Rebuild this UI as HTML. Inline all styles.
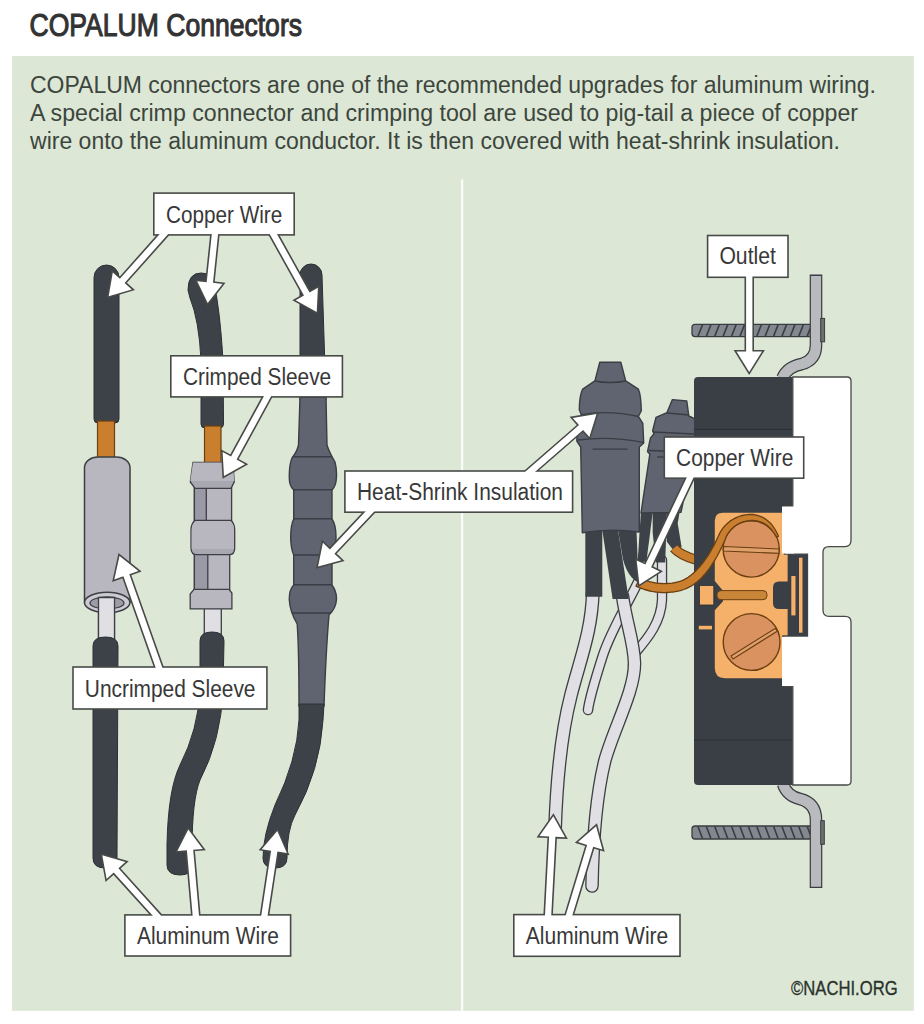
<!DOCTYPE html>
<html><head><meta charset="utf-8"><style>
html,body{margin:0;padding:0;background:#fff;}
svg{display:block;font-family:"Liberation Sans",sans-serif;}
</style></head><body>
<svg width="924" height="1024" viewBox="0 0 924 1024">
<rect x="0" y="0" width="924" height="1024" fill="#fff"/>
<rect x="12" y="56" width="901.8" height="954.8" fill="#dde7d6"/>
<text x="29.5" y="35.5" font-size="31.5" fill="#333" stroke="#333" stroke-width="1.1" textLength="272.5" lengthAdjust="spacingAndGlyphs">COPALUM Connectors</text>
<text x="30" y="92.6" font-size="23.3" fill="#3c463d" textLength="846" lengthAdjust="spacingAndGlyphs">COPALUM connectors are one of the recommended upgrades for aluminum wiring.</text>
<text x="30" y="120.7" font-size="23.3" fill="#3c463d" textLength="828" lengthAdjust="spacingAndGlyphs">A special crimp connector and crimping tool are used to pig-tail a piece of copper</text>
<text x="30" y="148.8" font-size="23.3" fill="#3c463d" textLength="810" lengthAdjust="spacingAndGlyphs">wire onto the aluminum conductor. It is then covered with heat-shrink insulation.</text>
<rect x="461" y="179.5" width="2.2" height="831.3" fill="#fbfdf9"/>
<path d="M94,277.5 A12.5,12.5 0 0 1 119,277.5 L119,419 Q119,423 115,423 L98,423 Q94,423 94,419 Z" fill="#3d4249" stroke="#2c3036" stroke-width="1"/><rect x="97.5" y="421" width="17" height="38" fill="#c97f2e" stroke="#6b3f12" stroke-width="1.2"/><rect x="98.5" y="598" width="16" height="44" fill="#dfdfe4" stroke="#3d3f44" stroke-width="1.3"/><path d="M84.5,467.5 A13.5,10.5 0 0 1 98,457 L116.5,457 A13.5,10.5 0 0 1 130,467.5 L130,602.5 L84.5,602.5 Z" fill="#b8b7bf" stroke="#3d3f44" stroke-width="1.5"/><ellipse cx="107.2" cy="602.5" rx="22.7" ry="10.2" fill="#cbcbd1" stroke="#3d3f44" stroke-width="1.5"/><ellipse cx="107" cy="603" rx="17" ry="6" fill="#9d9ca4" stroke="#3d3f44" stroke-width="1.3"/><path d="M98.5,641 L98.5,597.5 L114.5,597.5 L114.5,641" fill="#dfdfe4" stroke="#3d3f44" stroke-width="1.3"/><path d="M93,646 Q93,637 105.5,637 Q118,637 118,646 L117,858 Q117,868 105,868 Q93,868 93,858 Z" fill="#3d4249" stroke="#2c3036" stroke-width="1"/><path d="M188,290 Q188,273 201,273 Q212,273 214,283 Q220,310 223,360 L223.5,424 Q223.5,428 219.5,428 L205,428 Q201,428 201,424 L201,360 Q199,320 190,298 Z" fill="#3d4249" stroke="#2c3036" stroke-width="1"/><rect x="204.5" y="426" width="16.5" height="38" fill="#c97f2e" stroke="#6b3f12" stroke-width="1.2"/><rect x="204.3" y="600" width="17" height="36" fill="#dfdfe4" stroke="#3d3f44" stroke-width="1.3"/><path d="M194.4,486 L231.6,486 L231.6,521 L194.4,521 Z" fill="#b8b7bf" stroke="#3d3f44" stroke-width="1.3"/><path d="M194.4,486 L206.3,486 L206.3,521 L194.4,521 Z" fill="#9a9aa6" stroke="#3d3f44" stroke-width="1.3"/><path d="M194.4,553 L229.7,553 L229.7,590 L194.4,590 Z" fill="#b8b7bf" stroke="#3d3f44" stroke-width="1.3"/><path d="M194.4,553 L207.8,553 L207.8,590 L194.4,590 Z" fill="#9a9aa6" stroke="#3d3f44" stroke-width="1.3"/><path d="M193,462.5 L233,462.5 L234.2,482 L231,488.4 L195,488.4 L190.3,482 Z" fill="#a8a8b2" stroke="#3d3f44" stroke-width="1.3"/><path d="M193,462.5 L233,462.5 L234.2,481 L190.3,481 Z" fill="#b8b7bf"/><path d="M195,520.3 L231,520.3 Q234.7,524 234.7,530 L234.7,548 Q234.7,554.7 229,554.7 L197,554.7 Q191,554.7 191,548 L191,530 Q191,524 195,520.3 Z" fill="#a8a8b2" stroke="#3d3f44" stroke-width="1.3"/><path d="M196,521 L230,521 Q234,524 234,530 L234,549 L191.7,549 L191.7,530 Q191.7,524 196,521 Z" fill="#b8b7bf"/><path d="M194,589.4 L229,589.4 L231.9,593 L231.9,608.9 L190.2,608.9 L190.2,594 Z" fill="#b8b7bf" stroke="#3d3f44" stroke-width="1.3"/><path d="M200,641 Q200,632 212,632 Q224,632 224,641 L223,690 Q221,740 200,780 Q192,800 192,850 L192,865 Q192,875 180,875 Q167,875 167,865 L167,845 Q168,790 180,765 Q198,730 200,690 Z" fill="#3d4249" stroke="#2c3036" stroke-width="1"/><path d="M300,275 A11,11 0 0 1 322,275 L326,400 L300,400 Z" fill="#3d4249" stroke="#2c3036" stroke-width="1"/><clipPath id="hsclip"><path d="M300,397 L326,397 L327,445 Q329,452 335,462 Q337,470 336.4,478 Q336,486 332,490 L332,519 Q336,525 336,537 Q336,550 332,555 L332,585 Q337,592 336.4,600 Q336,608 329,615 Q326,650 324,706 Q311.5,708 299,706 Q299,650 297.2,624 Q290,612 289.3,600 Q289,590 293.7,585 L293.7,555 Q290.7,548 290.7,537 Q290.7,525 293.7,519 L293.7,490 Q289.3,486 289.3,478 Q289,465 292,458 Q297,452 298.5,445 Z"/></clipPath><path d="M300,397 L326,397 L327,445 Q329,452 335,462 Q337,470 336.4,478 Q336,486 332,490 L332,519 Q336,525 336,537 Q336,550 332,555 L332,585 Q337,592 336.4,600 Q336,608 329,615 Q326,650 324,706 Q311.5,708 299,706 Q299,650 297.2,624 Q290,612 289.3,600 Q289,590 293.7,585 L293.7,555 Q290.7,548 290.7,537 Q290.7,525 293.7,519 L293.7,490 Q289.3,486 289.3,478 Q289,465 292,458 Q297,452 298.5,445 Z" fill="#5f6470"/><g clip-path="url(#hsclip)"><line x1="280" y1="456.8" x2="345" y2="456.8" stroke="#3a3d44" stroke-width="1.4"/><line x1="280" y1="489.8" x2="345" y2="489.8" stroke="#3a3d44" stroke-width="1.4"/><line x1="280" y1="518.8" x2="345" y2="518.8" stroke="#3a3d44" stroke-width="1.4"/><line x1="280" y1="555" x2="345" y2="555" stroke="#3a3d44" stroke-width="1.4"/><line x1="280" y1="584.8" x2="345" y2="584.8" stroke="#3a3d44" stroke-width="1.4"/><line x1="280" y1="613" x2="345" y2="613" stroke="#3a3d44" stroke-width="1.4"/></g><path d="M300,397 L326,397 L327,445 Q329,452 335,462 Q337,470 336.4,478 Q336,486 332,490 L332,519 Q336,525 336,537 Q336,550 332,555 L332,585 Q337,592 336.4,600 Q336,608 329,615 Q326,650 324,706 Q311.5,708 299,706 Q299,650 297.2,624 Q290,612 289.3,600 Q289,590 293.7,585 L293.7,555 Q290.7,548 290.7,537 Q290.7,525 293.7,519 L293.7,490 Q289.3,486 289.3,478 Q289,465 292,458 Q297,452 298.5,445 Z" fill="none" stroke="#3a3d44" stroke-width="1.4"/><path d="M299,704 L324,704 L323,720 Q320,770 295,815 Q287,830 287,858 Q287,868 275,868 Q263,868 263,858 Q263,835 275,805 Q297,760 299,720 Z" fill="#3d4249" stroke="#2c3036" stroke-width="1"/>
<path d="M662,560 L662,600 C661,622 648,638 636,652 C634,656 633.5,660 633,666" fill="none" stroke="#3d3f44" stroke-width="10.4" stroke-linecap="round" stroke-linejoin="round"/><path d="M662,560 L662,600 C661,622 648,638 636,652 C634,656 633.5,660 633,666" fill="none" stroke="#dfdfe4" stroke-width="7.8" stroke-linecap="round" stroke-linejoin="round"/><path d="M640,578 C630,600 612,628 603,655 C595,680 589.5,698 588,710" fill="none" stroke="#3d3f44" stroke-width="10.6" stroke-linecap="round" stroke-linejoin="round"/><path d="M640,578 C630,600 612,628 603,655 C595,680 589.5,698 588,710" fill="none" stroke="#dfdfe4" stroke-width="7.999999999999999" stroke-linecap="round" stroke-linejoin="round"/><path d="M592.8,592 C592,630 580,660 571,695 C562,730 557,770 555,830" fill="none" stroke="#3d3f44" stroke-width="13.9" stroke-linecap="round" stroke-linejoin="round"/><path d="M592.8,592 C592,630 580,660 571,695 C562,730 557,770 555,830" fill="none" stroke="#dfdfe4" stroke-width="11.3" stroke-linecap="round" stroke-linejoin="round"/><path d="M622.5,596 C626,622 634,642 634.5,663 C635,690 614,728 605,760 C597,792 593,830 592,886" fill="none" stroke="#3d3f44" stroke-width="13.6" stroke-linecap="round" stroke-linejoin="round"/><path d="M622.5,596 C626,622 634,642 634.5,663 C635,690 614,728 605,760 C597,792 593,830 592,886" fill="none" stroke="#dfdfe4" stroke-width="11.0" stroke-linecap="round" stroke-linejoin="round"/><path d="M641,510 L653,510 L646.4,561.7 L640,562 L637.8,559.4 Z" fill="#3d4249"/><path d="M652.7,510 L667,510 L665.2,562.5 L655.8,562.5 L652.7,532.8 Z" fill="#3d4249"/><path d="M666.7,510 L680,510 L677.7,523.4 L681.6,546.9 L675,552 L673.75,550.8 L666.7,541.4 Z" fill="#3d4249"/><path d="M674,548 C679,554 686,557 697,560" fill="none" stroke="#6b3f12" stroke-width="10.4" stroke-linecap="butt"/><path d="M674,548 C679,554 686,557 697,560" fill="none" stroke="#c97f2e" stroke-width="8" stroke-linecap="butt"/><path d="M672.4,399.6 L686.8,401 L688.8,416 L696,419.4 L696,440 L681,512.4 L641,513 L649.8,454.3 L647.5,451.6 L650.5,437.9 L654,433.8 L652.6,431 L656,417.4 L667,412.6 Z" fill="#5f6470" stroke="#3a3d44" stroke-width="1.4" stroke-linejoin="round"/><line x1="667" y1="413" x2="689" y2="415" stroke="#3a3d44" stroke-width="1.3"/><line x1="653" y1="432" x2="694" y2="434" stroke="#3a3d44" stroke-width="1.3"/><line x1="649" y1="450.5" x2="694" y2="452" stroke="#3a3d44" stroke-width="1.3"/><line x1="657" y1="457" x2="666" y2="457" stroke="#3a3d44" stroke-width="1.3"/><path d="M585.3,530 L602.3,530 L602.3,596.7 L585.3,596.7 Z" fill="#3d4249"/><path d="M602.3,530 L618,530 L628.7,599 L612.6,599 Z" fill="#3d4249"/><path d="M618,530 L636.5,530 L638.5,582.5 Q628,578 622.9,559 Z" fill="#3d4249"/><path d="M599.8,362.3 L620.8,362.3 L625.7,380.9 L638.4,389.2 Q641,395 641.3,410.7 L638.4,416.5 L642.8,423.4 L643.7,442.9 L639.3,447 L639.3,532 Q610,528 582.3,532.7 L580.7,447 L576.8,441 Q577,425 581.2,414.6 L579.3,409.7 Q579.5,395 582.7,389.2 L594.9,380.9 Z" fill="#5f6470" stroke="#3a3d44" stroke-width="1.4" stroke-linejoin="round"/><path d="M594.9,381 Q610,384 625.7,381 M581,414.6 Q610,410 638.4,416.5 M578,440 Q610,436 643,442.4 M592.5,449.2 L627.6,449.2" fill="none" stroke="#3a3d44" stroke-width="1.3"/><rect x="692" y="324.3" width="124" height="12.300000000000011" rx="3" fill="#83878f" stroke="#3a3d40" stroke-width="1.3"/><line x1="698.0" y1="336.1" x2="702.5" y2="324.8" stroke="#3a3d40" stroke-width="1.6"/><line x1="706.4" y1="336.1" x2="710.9" y2="324.8" stroke="#3a3d40" stroke-width="1.6"/><line x1="714.8" y1="336.1" x2="719.3" y2="324.8" stroke="#3a3d40" stroke-width="1.6"/><line x1="723.2" y1="336.1" x2="727.7" y2="324.8" stroke="#3a3d40" stroke-width="1.6"/><line x1="731.6" y1="336.1" x2="736.1" y2="324.8" stroke="#3a3d40" stroke-width="1.6"/><line x1="740.0" y1="336.1" x2="744.5" y2="324.8" stroke="#3a3d40" stroke-width="1.6"/><line x1="748.4" y1="336.1" x2="752.9" y2="324.8" stroke="#3a3d40" stroke-width="1.6"/><line x1="756.8" y1="336.1" x2="761.3" y2="324.8" stroke="#3a3d40" stroke-width="1.6"/><line x1="765.2" y1="336.1" x2="769.7" y2="324.8" stroke="#3a3d40" stroke-width="1.6"/><line x1="773.6" y1="336.1" x2="778.1" y2="324.8" stroke="#3a3d40" stroke-width="1.6"/><line x1="782.0" y1="336.1" x2="786.5" y2="324.8" stroke="#3a3d40" stroke-width="1.6"/><line x1="790.4" y1="336.1" x2="794.9" y2="324.8" stroke="#3a3d40" stroke-width="1.6"/><line x1="798.8" y1="336.1" x2="803.3" y2="324.8" stroke="#3a3d40" stroke-width="1.6"/><line x1="807.2" y1="336.1" x2="811.7" y2="324.8" stroke="#3a3d40" stroke-width="1.6"/><rect x="692" y="826" width="120" height="13" rx="3" fill="#83878f" stroke="#3a3d40" stroke-width="1.3"/><line x1="698.0" y1="826.5" x2="702.5" y2="838.5" stroke="#3a3d40" stroke-width="1.6"/><line x1="706.4" y1="826.5" x2="710.9" y2="838.5" stroke="#3a3d40" stroke-width="1.6"/><line x1="714.8" y1="826.5" x2="719.3" y2="838.5" stroke="#3a3d40" stroke-width="1.6"/><line x1="723.2" y1="826.5" x2="727.7" y2="838.5" stroke="#3a3d40" stroke-width="1.6"/><line x1="731.6" y1="826.5" x2="736.1" y2="838.5" stroke="#3a3d40" stroke-width="1.6"/><line x1="740.0" y1="826.5" x2="744.5" y2="838.5" stroke="#3a3d40" stroke-width="1.6"/><line x1="748.4" y1="826.5" x2="752.9" y2="838.5" stroke="#3a3d40" stroke-width="1.6"/><line x1="756.8" y1="826.5" x2="761.3" y2="838.5" stroke="#3a3d40" stroke-width="1.6"/><line x1="765.2" y1="826.5" x2="769.7" y2="838.5" stroke="#3a3d40" stroke-width="1.6"/><line x1="773.6" y1="826.5" x2="778.1" y2="838.5" stroke="#3a3d40" stroke-width="1.6"/><line x1="782.0" y1="826.5" x2="786.5" y2="838.5" stroke="#3a3d40" stroke-width="1.6"/><line x1="790.4" y1="826.5" x2="794.9" y2="838.5" stroke="#3a3d40" stroke-width="1.6"/><line x1="798.8" y1="826.5" x2="803.3" y2="838.5" stroke="#3a3d40" stroke-width="1.6"/><line x1="807.2" y1="826.5" x2="811.7" y2="838.5" stroke="#3a3d40" stroke-width="1.6"/><path d="M816,274.6 L816,345 Q816,360 802,364 Q787,367 782.5,378" fill="none" stroke="#3a3d40" stroke-width="12.6" stroke-linejoin="round"/><path d="M816,275.9 L816,345 Q816,360 802,364 Q787,367 782.5,378" fill="none" stroke="#b9babe" stroke-width="10.2" stroke-linejoin="round"/><path d="M783,784 Q787,796 800,799 Q816,803 816,820 L816,888" fill="none" stroke="#3a3d40" stroke-width="12.6"/><path d="M783,784 Q787,796 800,799 Q816,803 816,820 L816,886.7" fill="none" stroke="#b9babe" stroke-width="10.2"/><rect x="820.7" y="318.4" width="3.9" height="23.4" fill="#6b7070" stroke="#3a3d40" stroke-width="1"/><rect x="820.7" y="820.7" width="3.6" height="23.6" fill="#6b7070" stroke="#3a3d40" stroke-width="1"/><path d="M698,377 L792.8,377 L792.8,785 L698,785 Q694,785 694,781 L694,381 Q694,377 698,377 Z" fill="#3a3f45"/><line x1="694" y1="429.4" x2="792" y2="429.4" stroke="#2c3035" stroke-width="1"/><line x1="694" y1="740" x2="792" y2="740" stroke="#2c3035" stroke-width="1"/><path d="M723,512.7 L787.8,512.7 L787.8,581.6 L779,581.6 Q773,581.6 773,587.6 L773,603 Q773,609 779,609 L787.8,609 L787.8,636 L782.9,636 L782.9,678.2 L725,678.2 Q714.8,678.2 714.8,668 L714.8,610.3 L723,601.2 L723,590.8 L714.8,581 L714.8,521 Q714.8,512.7 723,512.7 Z" fill="#f5b06a"/><path d="M792.8,377 L847,377 Q851,377 851,381 L851,540 Q851,546.6 845,546.6 L829,546.6 Q823,546.6 823,552 L823,610 Q823,616.4 829,616.4 L845,616.4 Q851,616.4 851,622 L851,781 Q851,785 847,785 L792.8,785 L792.8,686.4 L782.9,686.4 L782.9,636 L807.5,636 L807.5,554.2 L784.5,554.2 L784.5,506.5 L792.8,506.5 Z" fill="#fff" stroke="#474a47" stroke-width="1.3"/><rect x="782" y="506.5" width="12" height="47" fill="#fff"/><rect x="782" y="637" width="12" height="49" fill="#fff"/><rect x="787.8" y="554.2" width="19.7" height="81.8" fill="#3a3f45"/><rect x="799" y="557.7" width="3.5" height="75" fill="#f5b06a"/><rect x="791.3" y="576" width="4.2" height="39.4" fill="#f5b06a"/><rect x="699.5" y="585.5" width="14.3" height="19.5" fill="#f5b06a" stroke="#2b2f33" stroke-width="0.8"/><rect x="698.8" y="625.8" width="13.2" height="3.6" fill="#f5b06a"/><rect x="717" y="590.6" width="50" height="9.1" rx="4" fill="#c98538" stroke="#6b3f12" stroke-width="1"/><circle cx="751.2" cy="549" r="28.1" fill="#d99260" stroke="#6b3f12" stroke-width="1.4"/><path d="M723.5,546.5 L779,549 L779,553.4 L723.5,551 Z" fill="#e0a06c" stroke="#6b3f12" stroke-width="1.1"/><circle cx="751.6" cy="642" r="28.4" fill="#d99260" stroke="#6b3f12" stroke-width="1.4"/><path d="M731,656 L775.5,628.2 L777.2,631.2 L733,659 Z" fill="#e0a06c" stroke="#6b3f12" stroke-width="1.1"/><path d="M636.0,586.1 L637.6,586.8 L639.3,587.6 L641.0,588.2 L642.7,588.9 L644.5,589.5 L646.3,590.0 L648.1,590.5 L649.9,591.0 L651.7,591.4 L653.6,591.7 L655.5,592.0 L657.4,592.2 L659.3,592.4 L661.3,592.5 L663.2,592.6 L665.2,592.6 L667.2,592.5 L669.1,592.4 L671.1,592.2 L673.1,592.0 L675.1,591.7 L677.1,591.3 L679.1,590.9 L681.2,590.3 L683.7,589.5 L686.2,588.6 L688.6,587.4 L691.0,586.1 L693.2,584.7 L695.5,583.1 L697.6,581.4 L699.7,579.6 L701.7,577.6 L703.6,575.5 L705.5,573.4 L707.3,571.1 L709.1,568.8 L710.8,566.4 L712.4,563.9 L714.0,561.4 L715.6,558.8 L717.1,556.2 L718.5,553.5 L719.9,550.8 L721.3,548.1 L722.6,545.3 L723.8,542.5 L725.1,539.7 L725.6,538.1 L726.2,536.8 L726.8,535.5 L727.5,534.3 L728.3,533.1 L729.1,531.9 L730.0,530.8 L730.9,529.7 L731.9,528.7 L732.9,527.8 L734.0,526.8 L735.1,526.0 L736.2,525.2 L737.4,524.4 L738.7,523.7 L740.0,523.1 L741.3,522.6 L742.6,522.1 L744.0,521.6 L745.4,521.3 L746.8,521.0 L748.3,520.8 L749.7,520.6 L751.2,520.5 L752.7,520.5 L754.1,520.6 L755.4,520.7 L756.8,520.9 L758.1,521.1 L759.3,521.5 L760.5,521.9 L761.7,522.3 L762.9,522.9 L764.0,523.5 L765.1,524.1 L766.2,524.9 L767.3,525.6 L768.3,526.5 L769.2,527.4 L770.2,528.3 L771.1,529.3 L772.0,530.3 L772.8,531.4 L773.7,532.5 L774.4,533.6 L775.2,534.7 L775.9,535.9 L776.6,537.1 L778.4,536.3 L777.9,534.9 L777.3,533.6 L776.6,532.3 L775.9,531.0 L775.2,529.7 L774.4,528.5 L773.6,527.3 L772.8,526.1 L771.9,524.9 L770.9,523.8 L769.9,522.7 L768.8,521.7 L767.7,520.7 L766.5,519.8 L765.2,518.9 L763.9,518.1 L762.5,517.3 L761.1,516.7 L759.6,516.1 L758.0,515.6 L756.4,515.1 L754.7,514.8 L753.0,514.5 L751.2,514.5 L749.4,514.5 L747.6,514.6 L745.8,514.8 L744.1,515.1 L742.4,515.5 L740.7,515.9 L739.0,516.5 L737.4,517.1 L735.8,517.8 L734.2,518.6 L732.7,519.5 L731.2,520.4 L729.8,521.4 L728.4,522.5 L727.1,523.7 L725.8,524.9 L724.6,526.2 L723.4,527.5 L722.4,529.0 L721.4,530.4 L720.4,532.0 L719.6,533.6 L718.8,535.2 L718.1,536.7 L716.9,539.3 L715.6,542.0 L714.3,544.6 L712.9,547.1 L711.5,549.7 L710.1,552.1 L708.6,554.6 L707.1,556.9 L705.5,559.2 L703.9,561.5 L702.2,563.6 L700.6,565.7 L698.9,567.6 L697.1,569.5 L695.4,571.3 L693.6,572.9 L691.8,574.5 L690.0,575.9 L688.2,577.2 L686.4,578.4 L684.5,579.4 L682.6,580.3 L680.7,581.1 L678.8,581.7 L677.1,582.1 L675.4,582.5 L673.6,582.8 L671.9,583.1 L670.2,583.3 L668.5,583.4 L666.7,583.5 L665.0,583.6 L663.4,583.6 L661.7,583.5 L660.0,583.4 L658.3,583.3 L656.7,583.1 L655.1,582.8 L653.5,582.5 L651.9,582.2 L650.3,581.8 L648.8,581.4 L647.2,580.9 L645.7,580.4 L644.3,579.9 L642.8,579.3 L641.4,578.6 L640.0,577.9 Z" fill="#c97f2e" stroke="#6b3f12" stroke-width="1.3" stroke-linejoin="round"/>
<g fill="#474a47" stroke="#474a47" stroke-width="3.2" stroke-linejoin="miter"><rect x="154.6" y="193.9" width="138.8" height="40.2"/><polygon points="169.6,222.9 119.9,278.8 112.8,272.5 108.7,296.3 131.8,289.4 124.6,283.0 174.4,227.1"/><polygon points="212.8,224.7 206.7,282.2 197.2,281.2 207.7,302.9 222.5,283.9 213.0,282.8 219.0,225.3"/><polygon points="265.5,226.5 304.0,295.5 295.6,300.2 316.7,311.9 317.9,287.8 309.5,292.5 271.1,223.5"/></g><g fill="#fff"><rect x="154.6" y="193.9" width="138.8" height="40.2"/><polygon points="169.6,222.9 119.9,278.8 112.8,272.5 108.7,296.3 131.8,289.4 124.6,283.0 174.4,227.1"/><polygon points="212.8,224.7 206.7,282.2 197.2,281.2 207.7,302.9 222.5,283.9 213.0,282.8 219.0,225.3"/><polygon points="265.5,226.5 304.0,295.5 295.6,300.2 316.7,311.9 317.9,287.8 309.5,292.5 271.1,223.5"/></g><text x="166.0" y="222.6" font-size="24.7" textLength="116.3" lengthAdjust="spacingAndGlyphs" fill="#383838">Copper Wire</text>
<g fill="#474a47" stroke="#474a47" stroke-width="3.2" stroke-linejoin="miter"><rect x="171.6" y="356.6" width="170.0" height="39.5"/><polygon points="268.1,388.5 231.0,456.6 222.6,452.0 224.0,476.1 245.0,464.2 236.6,459.6 273.7,391.5"/></g><g fill="#fff"><rect x="171.6" y="356.6" width="170.0" height="39.5"/><polygon points="268.1,388.5 231.0,456.6 222.6,452.0 224.0,476.1 245.0,464.2 236.6,459.6 273.7,391.5"/></g><text x="183.0" y="384.7" font-size="24.7" textLength="148.2" lengthAdjust="spacingAndGlyphs" fill="#383838">Crimped Sleeve</text>
<g fill="#474a47" stroke="#474a47" stroke-width="3.2" stroke-linejoin="miter"><rect x="345.7" y="471.8" width="226.1" height="39.6"/><polygon points="373.7,502.8 329.9,549.4 322.9,542.8 318.1,566.5 341.4,560.3 334.4,553.7 378.3,507.2"/><polygon points="525.1,480.4 583.1,429.9 589.4,437.1 596.5,414.1 572.7,417.9 579.0,425.1 520.9,475.6"/></g><g fill="#fff"><rect x="345.7" y="471.8" width="226.1" height="39.6"/><polygon points="373.7,502.8 329.9,549.4 322.9,542.8 318.1,566.5 341.4,560.3 334.4,553.7 378.3,507.2"/><polygon points="525.1,480.4 583.1,429.9 589.4,437.1 596.5,414.1 572.7,417.9 579.0,425.1 520.9,475.6"/></g><text x="357.0" y="499.9" font-size="24.7" textLength="206.0" lengthAdjust="spacingAndGlyphs" fill="#383838">Heat-Shrink Insulation</text>
<g fill="#474a47" stroke="#474a47" stroke-width="3.2" stroke-linejoin="miter"><rect x="73.8" y="667.8" width="192.3" height="40.4"/><polygon points="164.6,674.0 129.3,574.2 138.4,571.0 119.5,555.9 114.3,579.5 123.4,576.3 158.6,676.0"/></g><g fill="#fff"><rect x="73.8" y="667.8" width="192.3" height="40.4"/><polygon points="164.6,674.0 129.3,574.2 138.4,571.0 119.5,555.9 114.3,579.5 123.4,576.3 158.6,676.0"/></g><text x="84.8" y="696.6" font-size="24.7" textLength="170.7" lengthAdjust="spacingAndGlyphs" fill="#383838">Uncrimped Sleeve</text>
<g fill="#474a47" stroke="#474a47" stroke-width="3.2" stroke-linejoin="miter"><rect x="125.7" y="915.7" width="164.1" height="39.5"/><polygon points="167.6,922.9 118.4,868.3 125.5,861.9 102.3,855.2 106.6,879.0 113.7,872.6 163.0,927.1"/><polygon points="199.8,924.7 193.2,849.7 202.8,848.9 188.3,829.6 177.4,851.1 186.9,850.3 193.5,925.3"/><polygon points="266.1,925.5 277.4,851.6 286.9,853.1 277.3,830.9 261.7,849.2 271.1,850.7 259.9,924.5"/></g><g fill="#fff"><rect x="125.7" y="915.7" width="164.1" height="39.5"/><polygon points="167.6,922.9 118.4,868.3 125.5,861.9 102.3,855.2 106.6,879.0 113.7,872.6 163.0,927.1"/><polygon points="199.8,924.7 193.2,849.7 202.8,848.9 188.3,829.6 177.4,851.1 186.9,850.3 193.5,925.3"/><polygon points="266.1,925.5 277.4,851.6 286.9,853.1 277.3,830.9 261.7,849.2 271.1,850.7 259.9,924.5"/></g><text x="137.0" y="943.9" font-size="24.7" textLength="141.8" lengthAdjust="spacingAndGlyphs" fill="#383838">Aluminum Wire</text>
<g fill="#474a47" stroke="#474a47" stroke-width="3.2" stroke-linejoin="miter"><rect x="708.4" y="236.3" width="78.8" height="40.2"/><polygon points="746.1,270.0 746.1,351.5 736.5,351.5 749.2,372.0 762.0,351.5 752.4,351.5 752.4,270.0"/></g><g fill="#fff"><rect x="708.4" y="236.3" width="78.8" height="40.2"/><polygon points="746.1,270.0 746.1,351.5 736.5,351.5 749.2,372.0 762.0,351.5 752.4,351.5 752.4,270.0"/></g><text x="719.4" y="264.4" font-size="24.7" textLength="56.5" lengthAdjust="spacingAndGlyphs" fill="#383838">Outlet</text>
<g fill="#474a47" stroke="#474a47" stroke-width="3.2" stroke-linejoin="miter"><rect x="665.1" y="437.8" width="137.8" height="39.6"/><polygon points="690.9,468.7 645.4,564.6 636.7,560.5 639.4,584.5 659.7,571.4 651.1,567.3 696.5,471.3"/></g><g fill="#fff"><rect x="665.1" y="437.8" width="137.8" height="39.6"/><polygon points="690.9,468.7 645.4,564.6 636.7,560.5 639.4,584.5 659.7,571.4 651.1,567.3 696.5,471.3"/></g><text x="676.1" y="465.6" font-size="24.7" textLength="117.2" lengthAdjust="spacingAndGlyphs" fill="#383838">Copper Wire</text>
<g fill="#474a47" stroke="#474a47" stroke-width="3.2" stroke-linejoin="miter"><rect x="514.6" y="915.4" width="164.6" height="40.1"/><polygon points="550.7,925.2 555.4,836.8 565.0,837.3 553.3,816.2 539.5,836.0 549.1,836.5 544.5,924.8"/><polygon points="569.1,925.9 593.2,846.7 602.4,849.5 596.1,826.2 578.0,842.1 587.1,844.9 563.1,924.1"/></g><g fill="#fff"><rect x="514.6" y="915.4" width="164.6" height="40.1"/><polygon points="550.7,925.2 555.4,836.8 565.0,837.3 553.3,816.2 539.5,836.0 549.1,836.5 544.5,924.8"/><polygon points="569.1,925.9 593.2,846.7 602.4,849.5 596.1,826.2 578.0,842.1 587.1,844.9 563.1,924.1"/></g><text x="525.8" y="943.8" font-size="24.7" textLength="142.5" lengthAdjust="spacingAndGlyphs" fill="#383838">Aluminum Wire</text>
<text x="791" y="994.6" font-size="20.5" fill="#2a332b" stroke="#2a332b" stroke-width="0.35" textLength="106.6" lengthAdjust="spacingAndGlyphs">©NACHI.ORG</text>
</svg>
</body></html>
